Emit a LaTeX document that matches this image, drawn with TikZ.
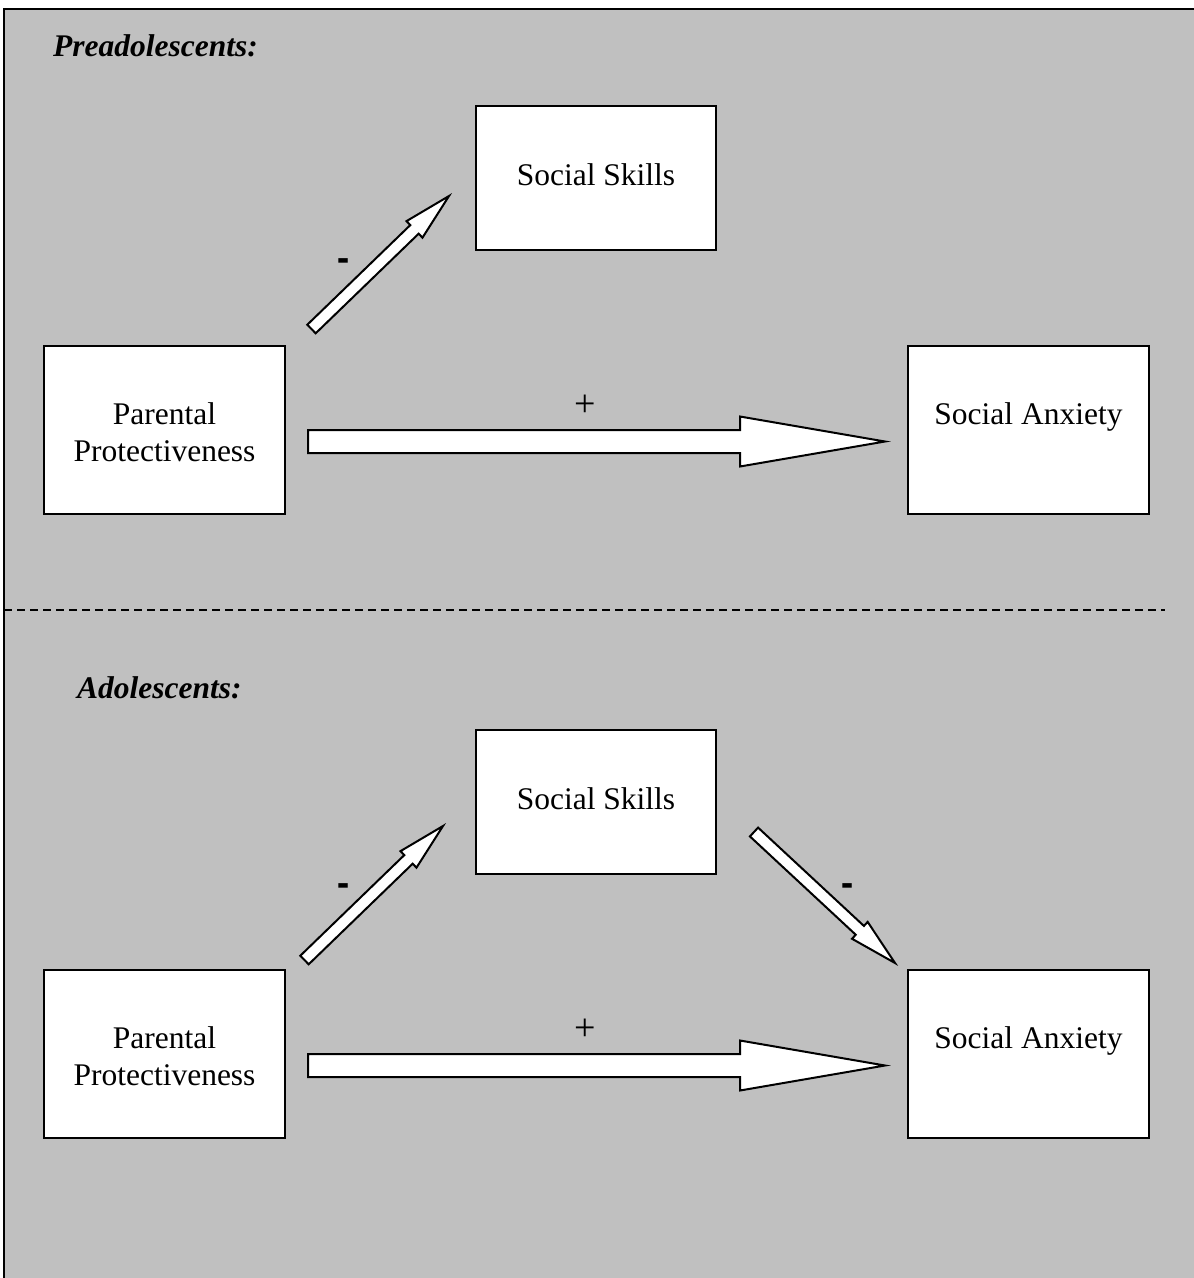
\documentclass[tikz,border=0pt]{standalone}
\usepackage{fontspec}
\usepackage{graphicx}
\setmainfont{Liberation Serif}
\usetikzlibrary{calc}
\definecolor{panelgray}{RGB}{192,192,192}

% block arrow: tail, tip, half shaft width, half head width, head length
\newcommand{\blockarrow}[5]{%
  \path ($(#2)!#5!(#1)$) coordinate (#1base);
  \draw[bigarrow]
    ($(#1)!#3!90:(#2)$) -- ($(#1base)!#3!90:(#2)$) -- ($(#1base)!#4!90:(#2)$)
    -- (#2)
    -- ($(#1base)!#4!-90:(#2)$) -- ($(#1base)!#3!-90:(#2)$) -- ($(#1)!#3!-90:(#2)$)
    -- cycle;
}
% heavy minus sign used for the negative paths
\newcommand{\negsign}{\scalebox{1.15}[1.7]{-}}

\tikzset{
  txt/.style={font=\fontsize{31.5}{37}\selectfont, inner sep=0pt},
  title/.style={txt, font=\fontsize{31.5}{37}\selectfont\bfseries\itshape, anchor=base west},
  sign/.style={txt, font=\fontsize{38}{40}\selectfont, anchor=center},
  minus/.style={txt, font=\fontsize{31.5}{37}\selectfont\bfseries, anchor=center},
  varbox/.style={draw=black, line width=2pt, fill=white, inner sep=0pt,
                 minimum width=241pt, minimum height=168pt},
  smallbox/.style={varbox, minimum width=240pt, minimum height=144pt},
  bigarrow/.style={draw=black, line width=2pt, fill=white, line join=miter},
}

\begin{document}
\begin{tikzpicture}[x=1pt, y=-1pt]
  \useasboundingbox (0,0) rectangle (1194,1278);

  % shaded panel with its left and top rules
  \fill[panelgray] (4,9) rectangle (1194,1278);
  \draw[line width=2pt] (4,1278) -- (4,9) -- (1194,9);

  % separator between the two age groups
  \draw[line width=2pt, dash pattern=on 8pt off 5pt] (4,610) -- (1165,610);

  % ---------- upper model ----------
  \node[title] (t1) at (53,56) {Preadolescents:};

  \node[smallbox] (ss1) at (596,178) {};
  \node[varbox]   (pp1) at (164.5,430) {};
  \node[varbox]   (sa1) at (1028.5,430) {};
  \node[txt, anchor=base] (ss1t) at (596,185) {Social Skills};
  \node[txt, align=center] (pp1t) at (164.5,432) {Parental\\Protectiveness};
  \node[txt, anchor=base] (sa1t) at (1028.5,424) {Social Anxiety};

  \coordinate (a1t) at (311.5,329);
  \coordinate (a1h) at (449,196);
  \blockarrow{a1t}{a1h}{6pt}{11.5pt}{48pt}
  \node[minus] (m1) at (344,266) {\negsign};

  \coordinate (b1t) at (308,441.5);
  \coordinate (b1h) at (885,441.5);
  \blockarrow{b1t}{b1h}{11.5pt}{25pt}{145pt}
  \node[sign] (p1) at (585,406) {+};

  % ---------- lower model ----------
  \node[title] (t2) at (77,698) {Adolescents:};

  \node[smallbox] (ss2) at (596,802) {};
  \node[varbox]   (pp2) at (164.5,1054) {};
  \node[varbox]   (sa2) at (1028.5,1054) {};
  \node[txt, anchor=base] (ss2t) at (596,809) {Social Skills};
  \node[txt, align=center] (pp2t) at (164.5,1056) {Parental\\Protectiveness};
  \node[txt, anchor=base] (sa2t) at (1028.5,1048) {Social Anxiety};

  \coordinate (a2t) at (304.5,960);
  \coordinate (a2h) at (443,826);
  \blockarrow{a2t}{a2h}{6pt}{11.5pt}{48pt}
  \node[minus] (m2) at (344,891) {\negsign};

  \coordinate (c2t) at (754,832);
  \coordinate (c2h) at (895,963);
  \blockarrow{c2t}{c2h}{6pt}{11.5pt}{48pt}
  \node[minus] (m3) at (848,891) {\negsign};

  \coordinate (b2t) at (308,1065.5);
  \coordinate (b2h) at (885,1065.5);
  \blockarrow{b2t}{b2h}{11.5pt}{25pt}{145pt}
  \node[sign] (p2) at (585,1030) {+};
\end{tikzpicture}
\end{document}
